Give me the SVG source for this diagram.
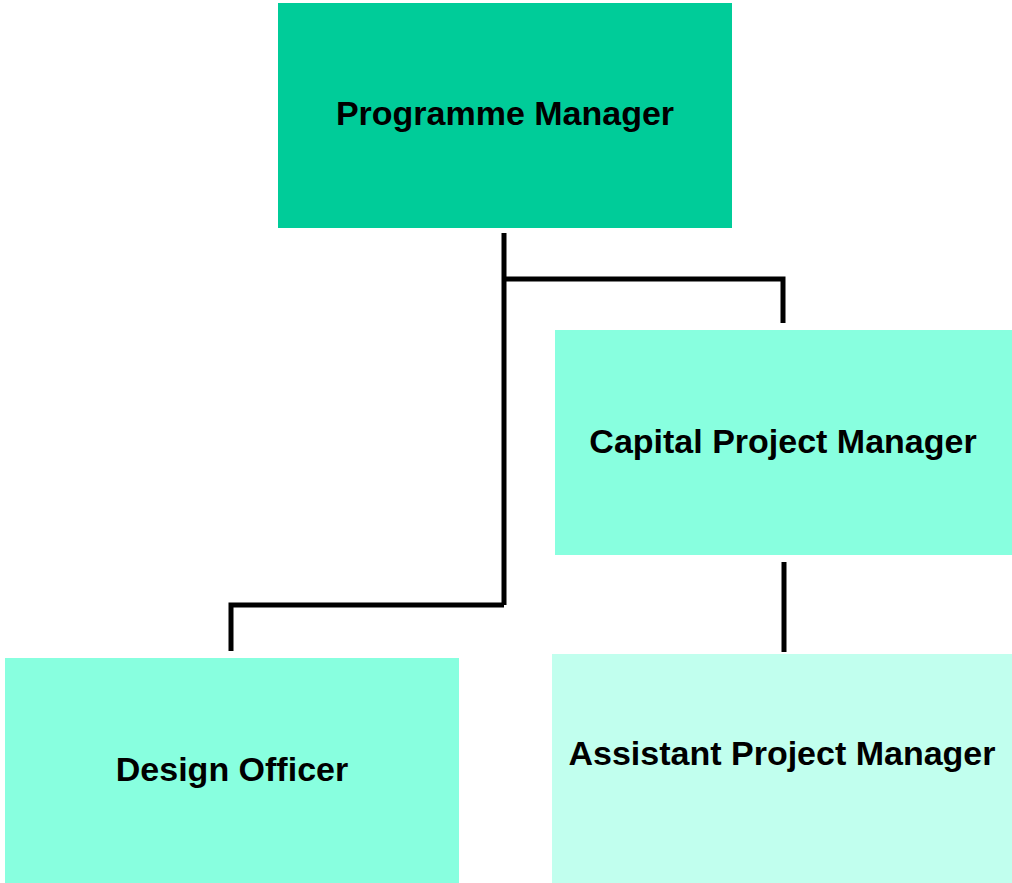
<svg xmlns="http://www.w3.org/2000/svg" width="1012" height="883" viewBox="0 0 1012 883">
<style>
.lbl{font-family:"Liberation Sans",Arial,sans-serif;font-weight:bold;font-size:34px;fill:#000;text-anchor:middle}
.conn{fill:none;stroke:#000;stroke-width:5;stroke-linecap:butt;stroke-linejoin:miter}
</style>
<rect width="1012" height="883" fill="#fff"/>
<g id="connectors">
<path class="conn" d="M504,233 V605"/>
<path class="conn" d="M504,279 H783 V323"/>
<path class="conn" d="M504,605 H231 V651"/>
<path class="conn" d="M784,562 V652"/>
</g>
<g id="programme-manager">
<rect x="278" y="3" width="454" height="225" fill="#00CC99"/>
<text class="lbl" x="505" y="125">Programme Manager</text>
</g>
<g id="capital-project-manager">
<rect x="555" y="330" width="457" height="225" fill="#88FFDF"/>
<text class="lbl" x="783" y="453">Capital Project Manager</text>
</g>
<g id="design-officer">
<rect x="5" y="658" width="454" height="225" fill="#88FFDF"/>
<text class="lbl" x="232" y="781">Design Officer</text>
</g>
<g id="assistant-project-manager">
<rect x="552" y="654" width="460" height="229" fill="#C1FFEE"/>
<text class="lbl" x="782" y="765">Assistant Project Manager</text>
</g>
</svg>
